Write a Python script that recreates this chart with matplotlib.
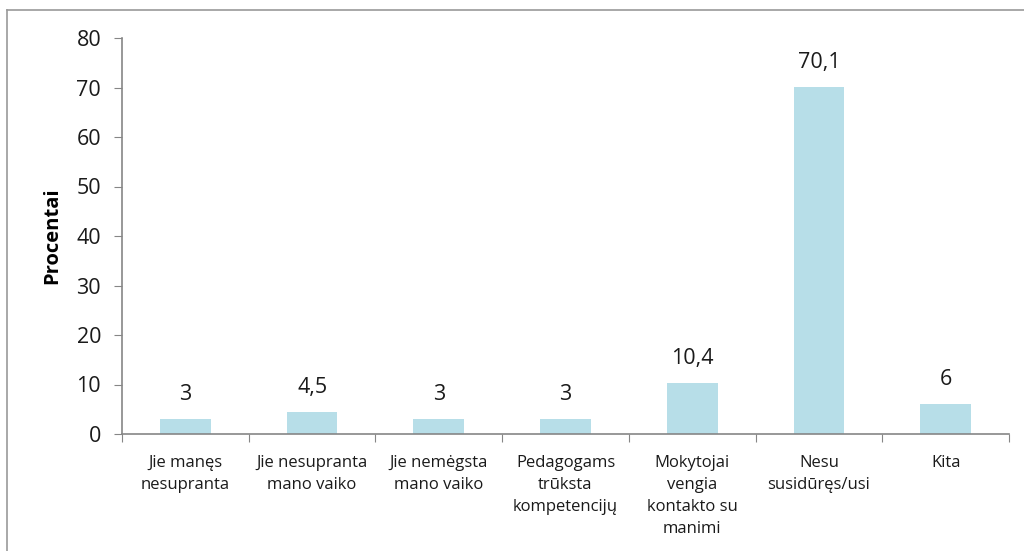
import matplotlib
matplotlib.use("Agg")
import matplotlib.pyplot as plt
from matplotlib.lines import Line2D
import numpy as np

categories = [
    "Jie manęs\nnesupranta",
    "Jie nesupranta\nmano vaiko",
    "Jie nemėgsta\nmano vaiko",
    "Pedagogams\ntrūksta\nkompetencijų",
    "Mokytojai\nvengia\nkontakto su\nmanimi",
    "Nesu\nsusidūręs/usi",
    "Kita",
]
values = [3, 4.5, 3, 3, 10.4, 70.1, 6]
value_labels = ["3", "4,5", "3", "3", "10,4", "70,1", "6"]
y_ticks = [0, 10, 20, 30, 40, 50, 60, 70, 80]

plt.rcParams["font.family"] = ["Open Sans", "DejaVu Sans"]
AXIS_COLOR = "#868686"
BAR_COLOR = "#B7DEE8"
TEXT_COLOR = "#1a1a1a"

fig = plt.figure(figsize=(10.24, 5.51), dpi=100)
ax = fig.add_axes([122 / 1024, 1 - 434 / 551, (1009 - 122) / 1024, (434 - 38) / 551])

x = np.arange(len(categories))
ax.bar(x, values, width=0.4, color=BAR_COLOR, zorder=2)
for xi, v, lab in zip(x, values, value_labels):
    ax.text(xi, v + 2.8, lab, ha="center", va="bottom", fontsize=15.5, color=TEXT_COLOR)

ax.set_xlim(-0.5, len(categories) - 0.5)
ax.set_ylim(0, 80)
ax.set_yticks(y_ticks)
ax.set_yticklabels([str(t) for t in y_ticks], fontsize=15.5, color=TEXT_COLOR)
ax.tick_params(axis="y", length=6, color=AXIS_COLOR, pad=9)

# x ticks at category boundaries, labels centered below bars
ax.set_xticks(np.arange(len(categories) + 1) - 0.5)
ax.set_xticklabels([])
ax.tick_params(axis="x", length=6, color=AXIS_COLOR)
for xi, cat in zip(x, categories):
    ax.text(xi, -4.2, cat, ha="center", va="top", fontsize=12,
            color=TEXT_COLOR, linespacing=1.5)

for side in ["top", "right"]:
    ax.spines[side].set_visible(False)
for side in ["left", "bottom"]:
    ax.spines[side].set_color(AXIS_COLOR)
    ax.spines[side].set_linewidth(1.2)

fig.text(52 / 1024, 1 - 236 / 551, "Procentai", rotation=90, ha="center", va="center",
         fontsize=14.5, fontweight="bold")

# outer chart frame (top and left edges visible)
fig.add_artist(Line2D([7 / 1024, 1.0], [1 - 10 / 551] * 2, color="#9a9a9a", lw=1.2,
                      transform=fig.transFigure))
fig.add_artist(Line2D([7 / 1024] * 2, [0.0, 1 - 10 / 551], color="#9a9a9a", lw=1.2,
                      transform=fig.transFigure))

fig.savefig("out.png", dpi=100)
